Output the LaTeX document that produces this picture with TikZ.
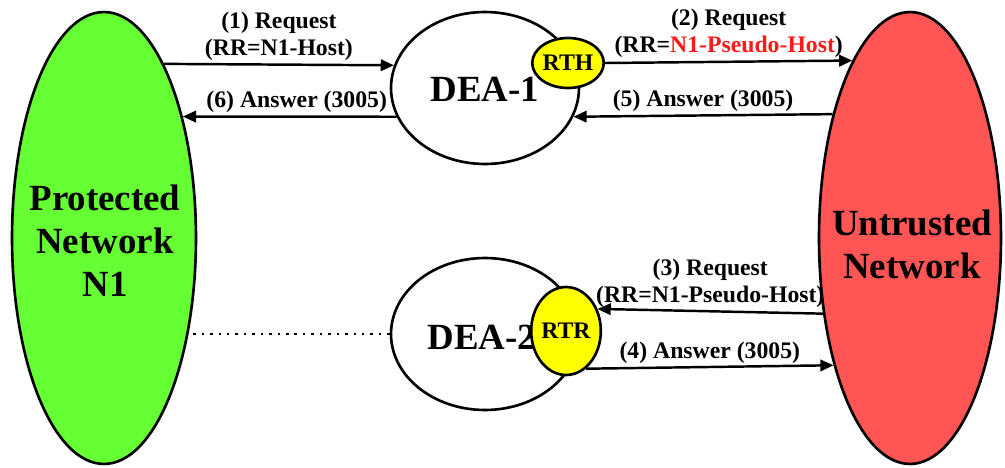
\documentclass[tikz,border=0pt]{standalone}
\usepackage{fontspec}
\setmainfont{Liberation Serif}
\usetikzlibrary{shapes.geometric}
\usetikzlibrary{arrows.meta}
\definecolor{netgreen}{HTML}{66FF33}
\definecolor{netred}{HTML}{FF5555}
\definecolor{tagyellow}{HTML}{FFFF00}
\definecolor{hostred}{HTML}{FF1A1A}

\begin{document}
\begin{tikzpicture}[x = 0.02cm, y = -0.02cm,
    net/.style = {ellipse, draw, line width=1.5pt, inner sep=0pt},
    msg/.style = {line width=1.4pt, -{Triangle[length=7.5pt,width=6.5pt]}},
    lbl/.style = {font=\bfseries\fontsize{13.5}{15.5}\selectfont, align=center, inner sep=1.5pt},
    big/.style = {font=\bfseries\fontsize{21}{24.5}\selectfont, align=center}]

    \useasboundingbox (0,0) rectangle (1005,467);

    % Networks
    \node[net, fill=netgreen, minimum width=3.68cm, minimum height=9.04cm] (grn) at (104,238) {};
    \node[net, fill=netred, minimum width=3.64cm, minimum height=9.04cm] (red) at (910,238) {};
    \node[big] (grntxt) at (105,241) {Protected\\Network\\N1};
    \node[big] (redtxt) at (912,244) {Untrusted\\Network};

    % DEA-1 with RTH
    \node[net, fill=white, minimum width=3.76cm, minimum height=3.04cm] (dea1) at (485,88) {};
    \node[big] (dea1txt) at (485,89) {DEA-1};
    \node[net, fill=tagyellow, minimum width=1.24cm, minimum height=1.0cm,
          font=\bfseries\fontsize{13.5}{15}\selectfont] (rth) at (568,63) {RTH};

    % DEA-2 with RTR
    \node[net, fill=white, minimum width=3.76cm, minimum height=3.04cm] (dea2) at (485,334) {};
    \node[big] (dea2txt) at (482,337) {DEA-2};
    \node[net, fill=tagyellow, minimum width=1.12cm, minimum height=1.76cm,
          font=\bfseries\fontsize{13.5}{15}\selectfont] (rtr) at (566,331) {RTR};

    % Messages N1 <-> DEA-1
    \draw[msg] (grn.71) -- node[lbl, above] {(1) Request\\(RR=N1-Host)} (dea1.166);
    \draw[msg] (dea1.198) -- node[lbl, above, xshift=4pt] {(6) Answer (3005)} (grn.57);

    % Messages DEA-1 <-> untrusted
    \draw[msg] (rth.east) -- node[lbl, above] {(2) Request\\(RR=\textcolor{hostred}{N1-Pseudo-Host})} (red.108);
    \draw[msg] (red.122) -- node[lbl, above] {(5) Answer (3005)} (dea1.-18);

    % Messages untrusted <-> DEA-2
    \draw[msg] (red.221) -- node[lbl, above] {(3) Request\\(RR=N1-Pseudo-Host)} (rtr.35);
    \draw[msg] (rtr.-62) -- node[lbl, above] {(4) Answer (3005)} (red.239);

    % N1 - DEA-2
    \draw[line width=1.4pt, dash pattern=on 1.4pt off 3.4pt] (dea2.west) -- ([xshift=-4pt]dea2.west -| grn.east);

\end{tikzpicture}
\end{document}
